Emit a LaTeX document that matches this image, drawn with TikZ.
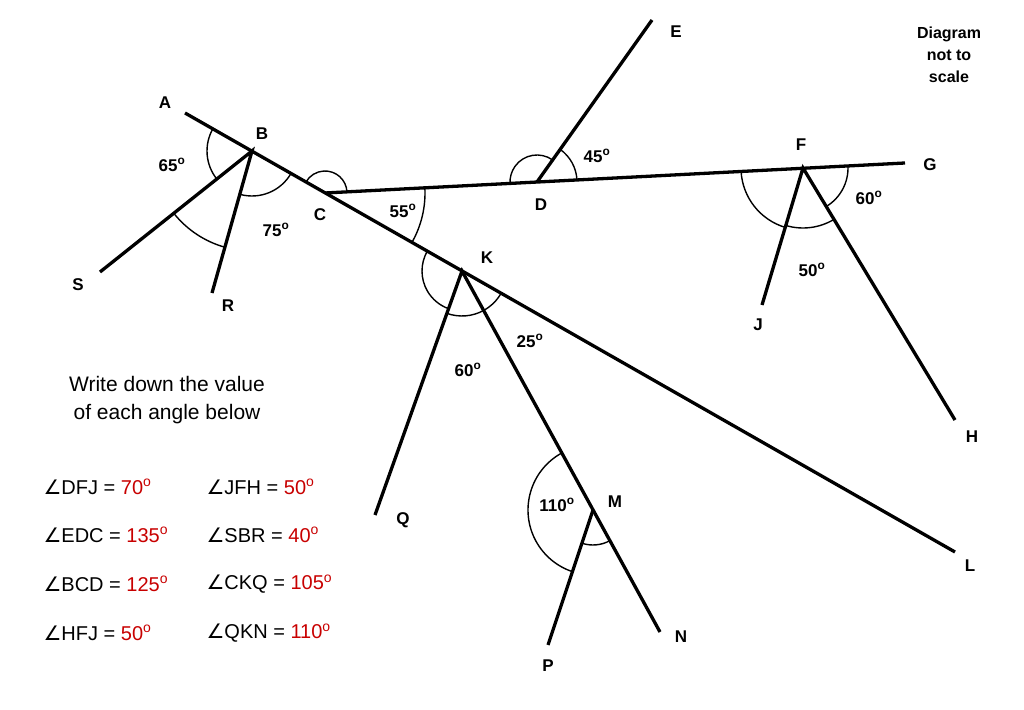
\documentclass[tikz,border=0pt]{standalone}
\usepackage{fontspec}
\setmainfont{Liberation Sans}
\newfontfamily\dvs{DejaVu Sans}
\usetikzlibrary{calc}
\definecolor{ans}{RGB}{200,0,0}
\newcommand{\ang}{{\dvs ∠}}
\newcommand{\dg}{\textsuperscript{o}}
\tikzset{ln/.style={line width=3.3pt},arcst/.style={line width=1.4pt},
lab/.style={font=\bfseries\fontsize{17}{19}\selectfont},
eq/.style={font=\fontsize{20}{22}\selectfont,anchor=west}}
\newcommand{\angarc}[4]{%
\draw[arcst] let \p1=($(#2)-(#1)$), \p2=($(#3)-(#1)$), \n1={atan2(\y1,\x1)}, \n2={atan2(\y2,\x2)}, \n3={\n2+360*(\n2<\n1)} in ($(#1)+(\n1:#4)$) arc[start angle=\n1, end angle=\n3, radius=#4];}
\begin{document}
\begin{tikzpicture}[x=1pt,y=1pt]
\useasboundingbox (0,0) rectangle (1024,709);
\coordinate (A) at (185,596); \coordinate (B) at (252,558); \coordinate (C) at (325,516);
\coordinate (K) at (462,438); \coordinate (L) at (955,157);
\coordinate (S) at (100,437); \coordinate (R) at (212,416);
\coordinate (G) at (905,546); \coordinate (D) at (537,527); \coordinate (F) at (803,541);
\coordinate (E) at (652,689); \coordinate (J) at (762,404); \coordinate (H) at (955,289);
\coordinate (Q) at (375,194); \coordinate (N) at (660,77); \coordinate (M) at (593,199);
\coordinate (P) at (548,64);
\draw[ln] (A)--(L); \draw[ln] (S)--(B)--(R); \draw[ln] (C)--(G); \draw[ln] (D)--(E);
\draw[ln] (J)--(F)--(H); \draw[ln] (Q)--(K)--(N); \draw[ln] (M)--(P);
\angarc{B}{A}{S}{45} \angarc{B}{S}{R}{100} \angarc{B}{R}{C}{45}
\angarc{C}{G}{A}{22} \angarc{C}{L}{G}{100}
\angarc{D}{E}{C}{27} \angarc{D}{G}{E}{40}
\angarc{F}{D}{J}{62} \angarc{F}{H}{G}{45} \angarc{F}{J}{H}{60}
\angarc{K}{A}{Q}{40} \angarc{K}{Q}{N}{45} \angarc{K}{N}{L}{45}
\angarc{M}{K}{P}{65} \angarc{M}{P}{N}{35}
\node[lab] (tA) at (165,606) {A}; \node[lab] (tB) at (262,575) {B};
\node[lab] (a65) at (172,544) {65\dg}; \node[lab] (tC) at (320,494) {C};
\node[lab] (a75) at (276,479) {75\dg}; \node[lab] (tS) at (78,424) {S};
\node[lab] (tR) at (228,403) {R}; \node[lab] (a55) at (403,498) {55\dg};
\node[lab] (tD) at (541,504) {D}; \node[lab] (a45) at (597,553) {45\dg};
\node[lab] (tE) at (676,677) {E}; \node[lab] (tF) at (801,564) {F};
\node[lab] (tG) at (930,544) {G}; \node[lab] (a60b) at (869,511) {60\dg};
\node[lab] (a50) at (812,439) {50\dg}; \node[lab] (tJ) at (758,384) {J};
\node[lab] (tH) at (972,272) {H}; \node[lab] (tK) at (487,451) {K};
\node[lab] (a25) at (530,368) {25\dg}; \node[lab] (a60) at (468,339) {60\dg};
\node[lab] (tQ) at (403,189) {Q}; \node[lab] (tM) at (615,207) {M};
\node[lab] (a110) at (557,204) {110\dg}; \node[lab] (tL) at (970,143) {L};
\node[lab] (tN) at (681,72) {N}; \node[lab] (tP) at (548,43) {P};
\node[font=\bfseries\fontsize{16}{22}\selectfont,align=center] (dn) at (949,654) {Diagram\\not to\\scale};
\node[font=\fontsize{21}{28}\selectfont,align=center] (wd) at (167,309) {Write down the value\\of each angle below};
\node[eq] (e1) at (40,222) {\ang DFJ = \textcolor{ans}{70\dg}};
\node[eq] (e2) at (40,174) {\ang EDC = \textcolor{ans}{135\dg}};
\node[eq] (e3) at (40,125) {\ang BCD = \textcolor{ans}{125\dg}};
\node[eq] (e4) at (40,76) {\ang HFJ = \textcolor{ans}{50\dg}};
\node[eq] (e5) at (203,222) {\ang JFH = \textcolor{ans}{50\dg}};
\node[eq] (e6) at (203,174) {\ang SBR = \textcolor{ans}{40\dg}};
\node[eq] (e7) at (203,125) {\ang CKQ = \textcolor{ans}{105\dg}};
\node[eq] (e8) at (203,76) {\ang QKN = \textcolor{ans}{110\dg}};
\end{tikzpicture}
\end{document}
